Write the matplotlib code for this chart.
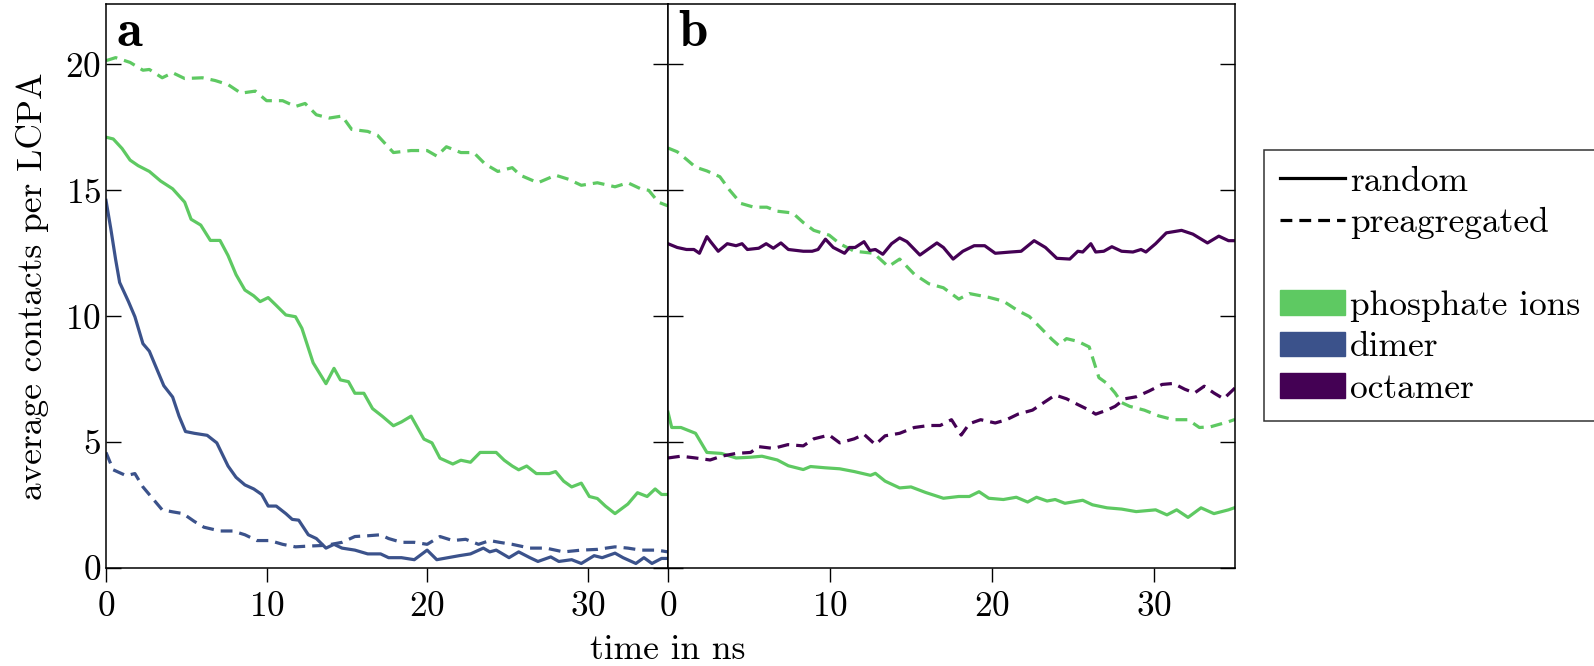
import matplotlib
matplotlib.use("Agg")
import matplotlib.pyplot as plt
from matplotlib.lines import Line2D
from matplotlib.patches import Patch

plt.rcParams["font.family"] = "serif"
plt.rcParams["font.serif"] = ["cmr10"]
plt.rcParams["axes.formatter.use_mathtext"] = True
plt.rcParams["mathtext.fontset"] = "cm"

GREEN = "#5ec962"
BLUE = "#3b528b"
PURPLE = "#440154"

# panel a: phosphate ions, random start
t_a_phos_rand = [0, 0.45, 1, 1.5, 2, 2.7, 3.4, 4.15, 4.9, 5.3, 5.9, 6.5, 7.1, 7.6, 8.1, 8.65, 9.2, 9.6,
                 10.1, 10.6, 11.2, 11.8, 12.2, 12.9, 13.7, 14.2, 14.6, 15.1, 15.5, 16.06, 16.6, 17.2,
                 17.9, 18.4, 19, 19.8, 20.3, 20.8, 21.6, 22.1, 22.7, 23.3, 24.3, 24.8, 25.3, 25.7,
                 26.2, 26.8, 27.6, 28, 28.5, 29, 29.6, 30.1, 30.6, 31.1, 31.7, 32.5, 33.1, 33.7,
                 34.2, 34.6, 35]
a_phos_rand = [17.11, 17.04, 16.66, 16.2, 15.98, 15.75, 15.37, 15.06, 14.53, 13.85, 13.62, 13.01,
               13.01, 12.41, 11.65, 11.04, 10.81, 10.58, 10.74, 10.43, 10.05, 9.98, 9.52, 8.15,
               7.32, 7.93, 7.47, 7.4, 6.94, 6.94, 6.33, 6.03, 5.65, 5.8, 6.03, 5.12, 4.97, 4.36,
               4.13, 4.28, 4.2, 4.59, 4.59, 4.28, 4.05, 3.9, 4.05, 3.75, 3.75, 3.83, 3.45, 3.22,
               3.37, 2.84, 2.76, 2.46, 2.16, 2.54, 2.99, 2.84, 3.14, 2.92, 2.92]

# panel a: phosphate ions, preaggregated start
t_a_phos_pre = [0, 0.6, 1.5, 2.3, 2.7, 3.5, 4.15, 4.9, 6.0, 6.8, 7.6, 8.4, 9.3, 10.0, 11, 11.8,
                12.4, 13.1, 13.9, 14.7, 15.3, 16.3, 16.9, 17.9, 19, 20, 20.6, 21.2, 22.1, 22.9,
                23.6, 24.4, 25.3, 25.8, 26.9, 28, 28.8, 29.6, 30.6, 31.7, 32.5, 33.3, 33.8, 34.4, 35]
a_phos_pre = [20.15, 20.27, 20.08, 19.77, 19.8, 19.47, 19.67, 19.44, 19.47, 19.36, 19.2, 18.86,
              18.94, 18.56, 18.56, 18.33, 18.45, 18.0, 17.87, 17.95, 17.42, 17.34, 17.19, 16.5,
              16.58, 16.58, 16.36, 16.73, 16.5, 16.5, 16.05, 15.75, 15.9, 15.6, 15.3, 15.6, 15.44,
              15.2, 15.3, 15.14, 15.3, 15.06, 15.0, 14.53, 14.38]

# panel a: dimer, random start
t_a_dim_rand = [0, 0.3, 0.6, 0.85, 1.4, 1.8, 2.3, 2.7, 3.1, 3.6, 4.15, 4.55, 4.95, 5.5, 6.3, 6.9,
                7.6, 8.1, 8.65, 9.2, 9.7, 10.1, 10.6, 11.2, 11.6, 12, 12.6, 13.1, 13.7, 14.2, 14.7,
                15.5, 16.3, 17.1, 17.6, 18.4, 19.2, 20, 20.6, 21.3, 22, 22.7, 23.5, 23.9, 24.3,
                25.1, 25.7, 26.4, 26.9, 27.7, 28.2, 29, 29.6, 30.4, 30.9, 31.7, 32.2, 33, 33.5,
                34, 34.6, 35]
a_dim_rand = [14.6, 13.47, 12.25, 11.34, 10.58, 9.98, 8.91, 8.61, 8.0, 7.24, 6.79, 6.03, 5.42,
              5.35, 5.27, 4.97, 4.05, 3.6, 3.3, 3.14, 2.92, 2.46, 2.46, 2.16, 1.93, 1.9, 1.32,
              1.17, 0.79, 0.94, 0.79, 0.71, 0.56, 0.56, 0.41, 0.41, 0.33, 0.71, 0.33, 0.41, 0.49,
              0.56, 0.79, 0.64, 0.71, 0.41, 0.64, 0.41, 0.26, 0.44, 0.26, 0.33, 0.18, 0.49, 0.41,
              0.59, 0.41, 0.18, 0.41, 0.18, 0.38, 0.38]

# panel a: dimer, preaggregated start
t_a_dim_pre = [0, 0.45, 1.25, 1.8, 2.3, 2.8, 3.5, 4.15, 4.8, 5.5, 6.1, 7.1, 7.9, 8.65, 9.4, 10.2,
               11, 11.8, 12.6, 13.7, 14.7, 15.5, 16.3, 17.1, 17.6, 18.4, 19.2, 20, 20.8, 21.6,
               22.4, 23.2, 23.9, 24.5, 25.3, 26.4, 27.4, 28.5, 29.6, 30.6, 31.7, 32.5, 33.3, 34.3, 35]
a_dim_pre = [4.59, 3.9, 3.67, 3.75, 3.22, 2.84, 2.31, 2.23, 2.16, 1.85, 1.62, 1.47, 1.47, 1.32,
             1.09, 1.09, 0.94, 0.84, 0.87, 0.9, 1.02, 1.25, 1.28, 1.32, 1.17, 1.02, 1.02, 0.94,
             1.25, 1.09, 1.14, 0.94, 1.09, 1.02, 0.94, 0.79, 0.79, 0.64, 0.71, 0.74, 0.84, 0.79,
             0.71, 0.71, 0.64]

# panel b: phosphate ions, random start
t_b_phos_rand = [0, 0.23, 0.8, 1.7, 2.4, 3.3, 4.2, 5.1, 5.8, 6.75, 7.43, 8.35, 8.8, 9.7, 10.6,
                 11.5, 12.5, 12.8, 13.4, 14.3, 15, 15.9, 17, 17.95, 18.6, 19.2, 19.8, 20.7, 21.5,
                 22.2, 22.75, 23.4, 23.9, 24.5, 25.6, 26.2, 27.1, 28, 28.9, 30.1, 30.8, 31.4,
                 32.1, 32.9, 33.7, 34.6, 35]
b_phos_rand = [6.19, 5.58, 5.58, 5.35, 4.59, 4.55, 4.37, 4.4, 4.44, 4.29, 4.06, 3.91, 4.03, 3.98,
               3.94, 3.83, 3.68, 3.76, 3.45, 3.18, 3.22, 3.0, 2.77, 2.84, 2.84, 3.03, 2.77, 2.72,
               2.81, 2.62, 2.81, 2.66, 2.72, 2.57, 2.69, 2.51, 2.39, 2.34, 2.24, 2.31, 2.11, 2.31,
               2.01, 2.39, 2.16, 2.31, 2.4]

# panel b: phosphate ions, preaggregated start
t_b_phos_pre = [0, 0.57, 1.14, 1.7, 2.4, 3.2, 3.8, 4.5, 5.3, 6.1, 6.75, 7.7, 8.35, 9.0, 9.95,
                10.6, 11.5, 12.7, 13.6, 14.3, 15.2, 16.1, 17, 17.95, 18.6, 19.8, 20.7, 21.6, 22.3,
                23, 23.7, 24.1, 24.6, 25.3, 26, 26.3, 26.6, 27.1, 27.6, 28, 28.5, 29.4, 30.3,
                31.2, 32.1, 32.8, 33.5, 34.6, 35]
b_phos_pre = [16.68, 16.53, 16.23, 15.92, 15.77, 15.54, 15.01, 14.48, 14.33, 14.33, 14.17, 14.1,
              13.72, 13.41, 13.22, 12.88, 12.58, 12.5, 11.97, 12.27, 11.67, 11.29, 11.13, 10.68,
              10.9, 10.75, 10.6, 10.22, 9.99, 9.54, 9.08, 8.85, 9.11, 9.0, 8.78, 8.17, 7.56, 7.33,
              6.95, 6.57, 6.42, 6.27, 6.04, 5.89, 5.89, 5.58, 5.61, 5.81, 5.9]

# panel b: octamer, random start
t_b_oct_rand = [0, 0.57, 1.14, 1.6, 1.94, 2.4, 2.63, 3.1, 3.66, 4.2, 4.57, 4.9, 5.6, 6.06, 6.5,
                6.97, 7.43, 8.35, 8.9, 9.26, 9.72, 10.2, 10.9, 11.2, 11.55, 12.1, 12.46, 12.8,
                13.26, 13.8, 14.3, 14.75, 15.55, 16.6, 17, 17.6, 18.2, 18.9, 19.55, 20.2, 21.15,
                21.8, 22.6, 23.3, 24, 24.8, 25.3, 25.6, 26.1, 26.4, 26.9, 27.4, 28, 28.7, 29.2,
                29.5, 30.1, 30.76, 31.7, 32.4, 33.3, 34, 34.6, 35]
b_oct_rand = [12.88, 12.73, 12.65, 12.65, 12.5, 13.16, 12.96, 12.58, 12.88, 12.8, 12.88, 12.65,
              12.7, 12.88, 12.7, 12.91, 12.65, 12.58, 12.58, 12.65, 13.06, 12.73, 12.5, 12.73,
              12.73, 12.96, 12.61, 12.65, 12.46, 12.88, 13.11, 12.96, 12.43, 12.91, 12.73, 12.27,
              12.58, 12.8, 12.8, 12.5, 12.55, 12.58, 13.0, 12.73, 12.3, 12.27, 12.58, 12.55,
              12.88, 12.55, 12.58, 12.76, 12.58, 12.55, 12.65, 12.55, 12.88, 13.31, 13.41, 13.26,
              12.91, 13.18, 13.0, 13.0]

# panel b: octamer, preaggregated start
t_b_oct_pre = [0, 0.8, 1.7, 2.6, 3.3, 4.2, 5.1, 5.6, 6.5, 7.4, 8.35, 9, 9.95, 10.6, 11.5, 12.1,
               12.8, 13.4, 14.3, 15.2, 16.1, 16.8, 17.5, 18.1, 18.6, 19.3, 20.2, 20.9, 21.6, 22.5,
               23.2, 23.9, 24.6, 25.3, 26, 26.4, 27.1, 27.6, 28.2, 28.9, 29.7, 30.5, 31.2, 31.9,
               32.5, 33.1, 33.7, 34.3, 35]
b_oct_pre = [4.37, 4.44, 4.37, 4.29, 4.44, 4.55, 4.59, 4.82, 4.75, 4.9, 4.85, 5.13, 5.28, 4.97,
             5.13, 5.31, 4.9, 5.25, 5.35, 5.58, 5.66, 5.66, 5.89, 5.28, 5.73, 5.89, 5.76, 5.89,
             6.11, 6.27, 6.57, 6.87, 6.72, 6.49, 6.27, 6.11, 6.27, 6.42, 6.72, 6.8, 7.03, 7.29,
             7.33, 7.1, 6.95, 7.22, 6.95, 6.72, 7.15]

LW = 2.3
DASH = (3.7, 2.2)
FS = 25.5

fig = plt.figure(figsize=(15.94, 6.66), dpi=100)
ax_a = fig.add_axes([106 / 1594, 1 - 568 / 666, 562 / 1594, 564 / 666])
ax_b = fig.add_axes([668 / 1594, 1 - 568 / 666, 567 / 1594, 564 / 666], sharey=ax_a)

ax_a.plot(t_a_phos_pre, a_phos_pre, color=GREEN, lw=LW, dashes=DASH)
ax_a.plot(t_a_phos_rand, a_phos_rand, color=GREEN, lw=LW)
ax_a.plot(t_a_dim_pre, a_dim_pre, color=BLUE, lw=LW, dashes=DASH)
ax_a.plot(t_a_dim_rand, a_dim_rand, color=BLUE, lw=LW)

ax_b.plot(t_b_phos_pre, b_phos_pre, color=GREEN, lw=LW, dashes=DASH)
ax_b.plot(t_b_phos_rand, b_phos_rand, color=GREEN, lw=LW)
ax_b.plot(t_b_oct_pre, b_oct_pre, color=PURPLE, lw=LW, dashes=DASH)
ax_b.plot(t_b_oct_rand, b_oct_rand, color=PURPLE, lw=LW)

for ax, letter in [(ax_a, "a"), (ax_b, "b")]:
    ax.set_xlim(0, 35)
    ax.set_ylim(0, 22.4)
    ax.set_xticks([0, 10, 20, 30])
    ax.tick_params(axis="x", direction="out", length=10, width=1, labelsize=FS, pad=7, top=False)
    ax.tick_params(axis="y", direction="in", length=10.8, width=1, labelsize=FS,
                   left=True, right=True)
    for s in ax.spines.values():
        s.set_linewidth(1.1)
    ax.text(0.018, 0.926, letter, transform=ax.transAxes, fontsize=38,
            family="cmb10", va="baseline", ha="left")

ax_a.set_yticks([0, 5, 10, 15, 20])
ax_a.set_ylabel("average contacts per LCPA", fontsize=FS, labelpad=12)
ax_b.tick_params(axis="y", labelleft=False)

fig.text(668 / 1594, 0.0, "time in ns", fontsize=FS, ha="center", va="bottom")

handles = [Line2D([], [], color="black", lw=LW),
           Line2D([], [], color="black", lw=LW, dashes=DASH),
           Line2D([], [], color="none"),
           Patch(color=GREEN), Patch(color=BLUE), Patch(color=PURPLE)]
labels = ["random", "preagregated", " ", "phosphate ions", "dimer", "octamer"]
leg = fig.legend(handles, labels, loc="upper left", bbox_to_anchor=(1264 / 1594, 1 - 150 / 666),
                 fontsize=FS, frameon=True, fancybox=False, edgecolor="black",
                 handlelength=1.85, handletextpad=0.12, labelspacing=0.27, borderpad=0.45,
                 borderaxespad=0)
leg.get_frame().set_linewidth(1.1)

fig.savefig("out.png", dpi=100)
